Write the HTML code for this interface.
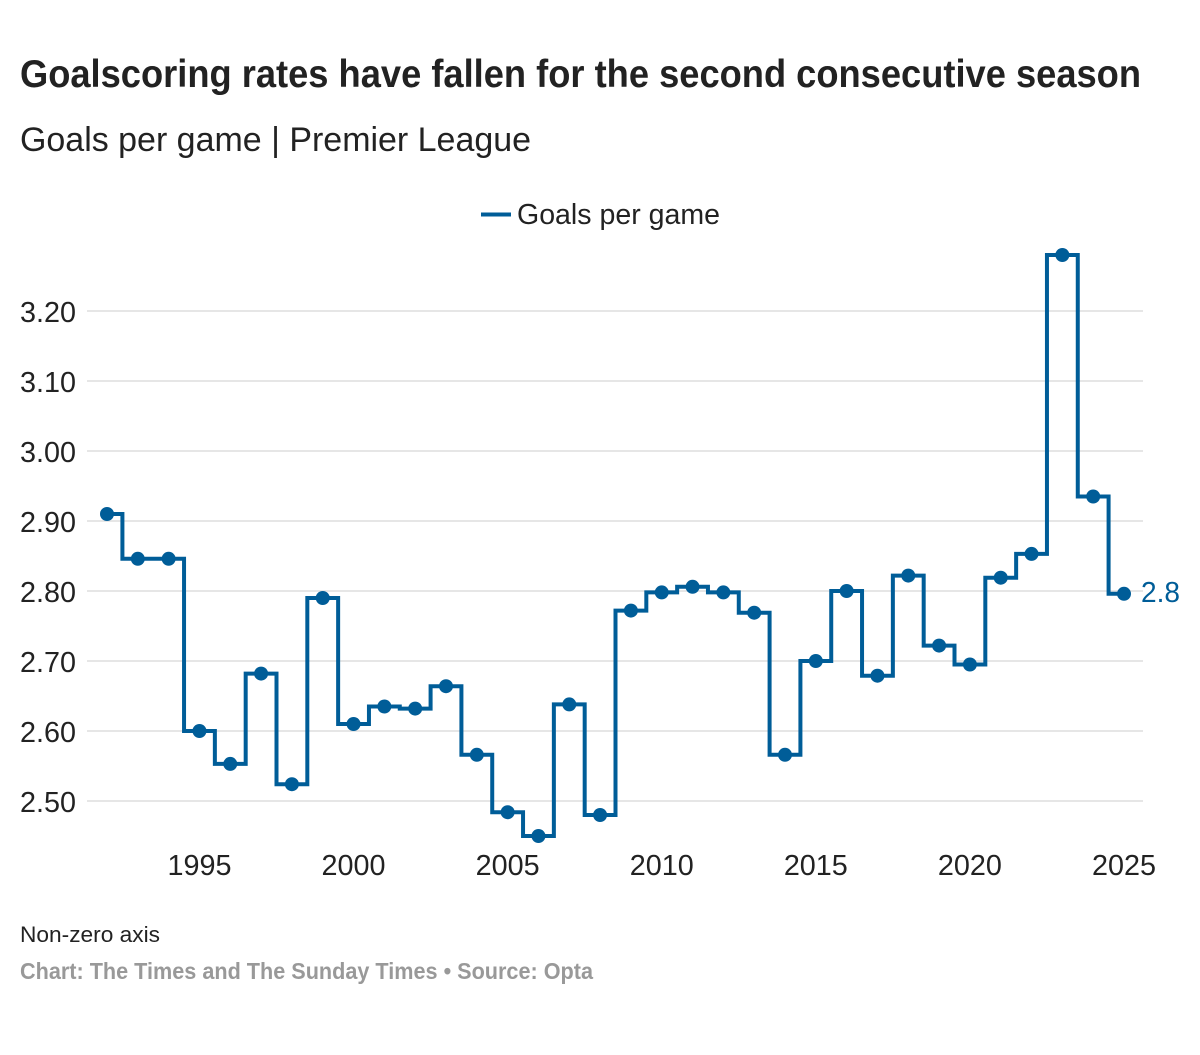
<!DOCTYPE html>
<html lang="en">
<head>
<meta charset="utf-8">
<title>Goalscoring rates</title>
<style>
html,body{margin:0;padding:0;background:#fff;width:1200px;height:1055px;overflow:hidden}
svg{display:block}
text{font-family:"Liberation Sans",sans-serif;fill:#222}
</style>
</head>
<body>
<svg id="chart" xmlns="http://www.w3.org/2000/svg" width="1200" height="1055" viewBox="0 0 1200 1055">
<rect width="1200" height="1055" fill="#fff"/>
<text x="20" y="87" font-size="38.500" font-weight="bold" textLength="1121" lengthAdjust="spacingAndGlyphs" fill="#222">Goalscoring rates have fallen for the second consecutive season</text>
<text x="20" y="151" font-size="34" textLength="511" lengthAdjust="spacingAndGlyphs">Goals per game | Premier League</text>
<line x1="481" x2="511" y1="214.500" y2="214.500" stroke="#005d98" stroke-width="4"/>
<text x="517" y="224" font-size="28.500" textLength="203" lengthAdjust="spacingAndGlyphs">Goals per game</text>
<g id="grid"></g>
<g id="yticks"></g>
<g id="xticks"></g>
<path id="series" fill="none" stroke="#005d98" stroke-width="4" stroke-linejoin="miter"/>
<g id="points"></g>
<text id="endLabel" font-size="28.500" style="fill:#005d98" textLength="39" lengthAdjust="spacingAndGlyphs"></text>
<text x="20" y="942" font-size="22" textLength="140" lengthAdjust="spacingAndGlyphs">Non-zero axis</text>
<text x="20" y="979" font-size="23" font-weight="bold" textLength="573" lengthAdjust="spacingAndGlyphs" style="fill:#999">Chart: The Times and The Sunday Times • Source: Opta</text>
</svg>
<script>
const years = [1992,1993,1994,1995,1996,1997,1998,1999,2000,2001,2002,2003,2004,2005,2006,2007,2008,2009,2010,2011,2012,2013,2014,2015,2016,2017,2018,2019,2020,2021,2022,2023,2024,2025];
const goalsPerGame = [2.91,2.846,2.846,2.60,2.553,2.682,2.524,2.79,2.61,2.635,2.632,2.664,2.566,2.484,2.45,2.638,2.48,2.772,2.798,2.806,2.798,2.769,2.566,2.70,2.80,2.679,2.822,2.722,2.695,2.819,2.853,3.28,2.935,2.796];
const yTicks = [2.5,2.6,2.7,2.8,2.9,3.0,3.1,3.2];
const xTicks = [1995,2000,2005,2010,2015,2020,2025];
const endLabelText = "2.8";

const NS = "http://www.w3.org/2000/svg";
const xScale = y => 107 + (y - 1992) * (1124 - 107) / 33;
const yScale = v => 801 - (v - 2.5) * 700;

function make(tag, attrs, parent) {
  const el = document.createElementNS(NS, tag);
  for (const k in attrs) el.setAttribute(k, attrs[k]);
  parent.appendChild(el);
  return el;
}

const grid = document.getElementById("grid");
const yLabels = document.getElementById("yticks");
yTicks.forEach(t => {
  const line = make("line", {x1: 87, x2: 1143, y1: yScale(t), y2: yScale(t), stroke: "#e6e6e6", "stroke-width": 2}, grid);
  
  
  const label = make("text", {x: 20, y: yScale(t) + 11, "font-size": 28.5, textLength: 56, lengthAdjust: "spacingAndGlyphs"}, yLabels);
  
  
  label.textContent = t.toFixed(2);
});

const xLabels = document.getElementById("xticks");
xTicks.forEach(t => {
  const label = make("text", {x: xScale(t) - 32, y: 875, "font-size": 28.5, textLength: 64, lengthAdjust: "spacingAndGlyphs"}, xLabels);
  
  
  label.textContent = t;
});

let d = "M" + xScale(years[0]) + " " + yScale(goalsPerGame[0]);
for (let i = 1; i < years.length; i++) {
  const mid = (xScale(years[i - 1]) + xScale(years[i])) / 2;
  d += " H" + mid + " V" + yScale(goalsPerGame[i]) + " H" + xScale(years[i]);
}
document.getElementById("series").setAttribute("d", d);

const points = document.getElementById("points");
years.forEach((y, i) => {
  const c = make("circle", {cx: xScale(y), cy: yScale(goalsPerGame[i]), r: 7, fill: "#005d98"}, points);
  
  
});

const endLabel = document.getElementById("endLabel");
endLabel.setAttribute("x", xScale(years[years.length - 1]) + 17);
endLabel.setAttribute("y", yScale(goalsPerGame[goalsPerGame.length - 1]) + 8);
endLabel.textContent = endLabelText;
</script>
</body>
</html>
